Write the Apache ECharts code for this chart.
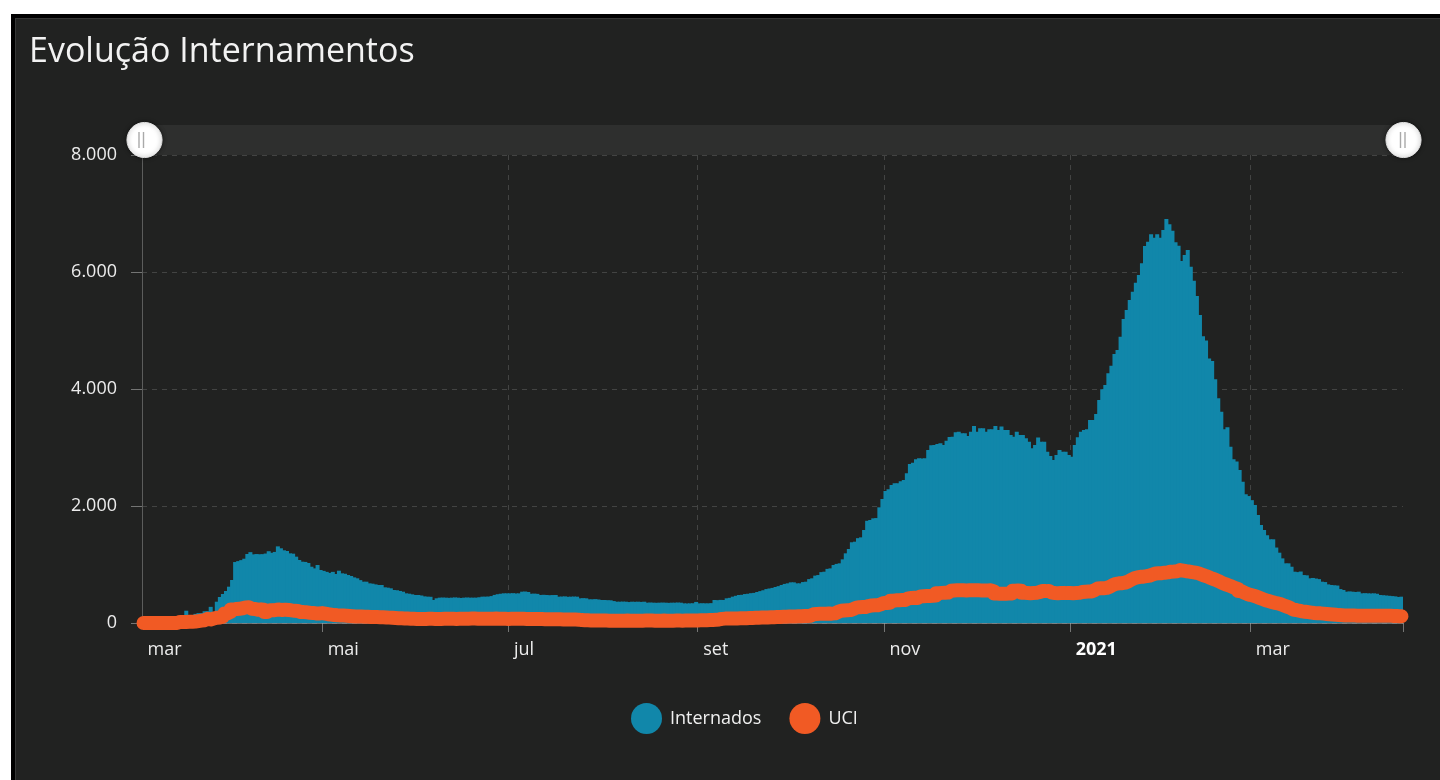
<!DOCTYPE html>
<html>
<head>
<meta charset="utf-8">
<script src="https://cdn.jsdelivr.net/npm/echarts@6/dist/echarts.min.js"></script>
<style>
  html, body { margin: 0; padding: 0; background: #ffffff; width: 1440px; height: 780px; overflow: hidden; }
  #frame { position: absolute; left: 11px; top: 14px; right: 0; bottom: 0; background: #000; }
  #panel { position: absolute; left: 15px; top: 18px; right: 0; bottom: 0; background: #212221;
           border-left: 1px solid #353635; border-top: 1px solid #353635; }
  #chart { position: absolute; left: 0; top: 0; width: 1440px; height: 780px; }
</style>
</head>
<body>
<div id="frame"></div>
<div id="panel"></div>
<div id="chart"></div>
<script>
// ---- Data: daily values from 2020-03-03 to 2021-04-19 ----
const startDate = '2020-03-03';
const monthNames = ['jan','fev','mar','abr','mai','jun','jul','ago','set','out','nov','dez'];
const yTicks = [0, 2000, 4000, 6000, 8000];

const hospMar20 = [0,0,0,0,0,0,0,0,0,0,0,0,0,0,210,89,126,156,169,169,201,203,276,191,364,444,496,547,621];
const hospApr20 = [735,1042,1058,1075,1099,1180,1211,1173,1179,1175,1177,1187,1227,1200,1215,1310,1277,1243,1231,1191,1185,1134,1077,1048,1044,1026,962,934,991,906];
const hospMay20 = [891,874,856,874,838,894,849,842,820,803,780,764,733,706,706,678,672,660,650,650,610,604,593,564,560,548,535,507,501,490,479];
const hospJun20 = [479,470,455,450,448,393,422,433,435,433,430,433,437,433,428,433,436,433,433,433,440,450,450,452,460,480,492,500,507,507];
const hospJul20 = [507,510,505,507,535,538,530,500,502,498,479,482,479,475,478,479,450,452,455,448,450,452,450,422,425,422,405,405,408,402,393];
const hospAug20 = [393,390,388,375,364,364,366,364,358,364,362,364,360,364,347,350,347,345,347,349,347,344,347,347,350,347,336,334,336,338,360];
const hospSep20 = [336,338,336,336,340,393,390,395,393,422,430,450,465,479,482,495,500,510,515,530,545,560,580,590,600,615,630,650,668,678];
const hospOct20 = [695,695,678,678,700,706,750,764,810,820,870,877,925,934,991,1010,1020,1088,1191,1265,1380,1390,1450,1464,1590,1747,1761,1789,1794,1977,2120];
const hospNov20 = [2255,2285,2359,2388,2388,2425,2444,2559,2720,2740,2800,2815,2810,2815,2957,3040,3043,3060,3072,3043,3117,3180,3185,3260,3271,3243,3243,3197,3271,3368];
const hospDec20 = [3271,3328,3328,3271,3311,3311,3368,3300,3357,3300,3300,3214,3185,3271,3214,3214,3157,3100,2986,3043,3170,3100,3100,2929,2855,2786,2872,2957,2929,2929,2872];
const hospJan21 = [2843,3043,3174,3271,3299,3311,3470,3470,3573,3812,3995,4068,4268,4399,4598,4667,4894,5197,5350,5521,5664,5817,5949,6148,6444,6518,6644,6587,6644,6587,6718];
const hospFeb21 = [6906,6815,6706,6507,6450,6188,6291,6376,6091,5852,5590,5265,4900,4830,4520,4480,4165,3840,3612,3311,3345,3014,2800,2760,2615,2416,2200,2170];
const hospMar21 = [2100,2017,1846,1675,1590,1500,1431,1431,1290,1202,1105,1020,1020,962,877,870,880,820,815,764,770,760,750,706,700,660,650,645,640,580,564];
const hospApr21 = [535,540,535,530,535,507,510,507,505,507,500,479,475,470,465,460,455,445,450];

const uciMar20 = [0,0,0,0,0,0,0,0,0,0,0,0,18,18,18,20,22,26,33,41,47,71,61,76,89,95,108,164,188];
const uciApr20 = [230,240,245,251,267,271,245,241,226,233,228,188,218,217,226,229,222,228,224,215,208,204,188,186,182,176,172,164,163,169];
const uciMay20 = [160,150,142,135,131,130,128,125,120,116,113,111,110,108,106,104,104,102,100,98,96,92,88,85,82,80,78,76,74,72,70];
const uciJun20 = [70,68,70,72,71,70,68,70,72,74,73,71,70,72,72,73,74,76,75,73,72,71,72,73,74,75,73,72,71,70];
const uciJul20 = [72,73,74,72,71,70,70,69,68,67,68,66,65,64,64,63,62,61,60,60,59,58,57,50,47,45,44,43,42,42,41];
const uciAug20 = [41,40,40,39,39,38,40,41,40,39,38,39,40,41,42,41,40,39,40,41,40,39,40,42,41,40,41,42,43,42,44];
const uciSep20 = [45,46,48,50,52,54,60,70,75,77,78,78,79,80,80,82,84,86,88,90,92,94,96,98,100,102,104,106,108,110];
const uciOct20 = [110,112,114,116,118,120,125,150,155,157,159,160,162,160,165,190,210,215,217,220,240,262,270,273,275,290,300,302,305,320,342];
const uciNov20 = [342,345,380,388,390,392,395,420,427,430,428,455,458,461,462,465,468,510,515,518,520,550,555,558,560,558,556,558,560,558];
const uciDec20 = [558,557,556,555,558,540,505,501,500,502,503,505,550,555,553,515,513,510,512,515,530,547,545,548,520,513,510,512,515,511,513];
const uciJan21 = [510,512,515,530,535,537,540,560,590,593,595,600,620,650,670,678,680,690,710,740,765,780,790,792,800,810,830,845,849,852,860];
const uciFeb21 = [865,877,880,885,904,895,885,880,870,862,850,830,810,792,770,750,730,706,680,660,640,621,600,580,545,520,495,479];
const uciMar21 = [469,450,430,410,390,375,360,345,336,320,300,280,260,230,222,210,200,192,185,178,172,168,165,160,155,150,145,140,135,132,130];
const uciApr21 = [130,128,127,125,126,125,124,125,126,125,123,124,125,124,122,120,118,117,115];

const internados = [].concat(hospMar20, hospApr20, hospMay20, hospJun20, hospJul20, hospAug20, hospSep20,
  hospOct20, hospNov20, hospDec20, hospJan21, hospFeb21, hospMar21, hospApr21);
const uci = [].concat(uciMar20, uciApr20, uciMay20, uciJun20, uciJul20, uciAug20, uciSep20,
  uciOct20, uciNov20, uciDec20, uciJan21, uciFeb21, uciMar21, uciApr21);

// category dates
const days = [];
(function () {
  const d0 = new Date(startDate + 'T00:00:00Z');
  for (let i = 0; i < internados.length; i++) {
    const d = new Date(d0.getTime() + i * 86400000);
    days.push(d.toISOString().slice(0, 10));
  }
})();

function parts(v) { const p = v.split('-'); return { y: +p[0], m: +p[1], d: +p[2] }; }
function isMajor(v) { const p = parts(v); return p.d === 1 && (p.m % 2 === 1); }

const TEAL = '#1187aa';
const ORANGE = '#f15a24';
const FONT = '"Open Sans", Lato, sans-serif';

const chart = echarts.init(document.getElementById('chart'), null, { renderer: 'canvas' });
chart.setOption({
  backgroundColor: 'transparent',
  animation: false,
  title: {
    text: 'Evolução Internamentos',
    left: 24, top: 30,
    textStyle: { color: '#f2f2f2', fontSize: 34, fontWeight: 'normal', fontFamily: FONT }
  },
  legend: {
    data: ['Internados', 'UCI'],
    icon: 'circle',
    itemWidth: 31, itemHeight: 31,
    itemGap: 28, padding: 0,
    left: 631, top: 703,
    textStyle: { color: '#f0f0f0', fontSize: 18, fontFamily: FONT, padding: [0, 0, 0, 3] }
  },
  grid: { left: 142, right: 37, top: 155, bottom: 157, containLabel: false },
  dataZoom: [{
    type: 'slider', xAxisIndex: 0, start: 0, end: 100,
    top: 125, height: 30, left: 142, right: 37,
    backgroundColor: '#2e2f2e', borderColor: 'transparent', borderRadius: 0,
    fillerColor: 'rgba(0,0,0,0)',
    showDetail: false, showDataShadow: false, brushSelect: false,
    moveHandleSize: 0,
    moveHandleStyle: { opacity: 0 },
    handleIcon: 'circle', handleSize: '117%',
    handleStyle: { color: '#ffffff', borderColor: '#e0e0e0', borderWidth: 1, shadowBlur: 4, shadowColor: 'rgba(0,0,0,0.5)' },
    emphasis: { handleStyle: { color: '#ffffff', borderColor: '#e0e0e0' }, moveHandleStyle: { opacity: 0 } },
    dataBackground: { lineStyle: { opacity: 0 }, areaStyle: { opacity: 0 } },
    selectedDataBackground: { lineStyle: { opacity: 0 }, areaStyle: { opacity: 0 } }
  }],
  xAxis: [{
    type: 'category', data: days, boundaryGap: true,
    axisLine: { show: false },
    axisTick: {
      show: true, length: 9,
      interval: function (i, v) { return i !== 0 && isMajor(v); },
      lineStyle: { color: '#747574' }
    },
    axisLabel: {
      show: true,
      interval: function (i, v) { return i === 0 || isMajor(v); },
      formatter: function (v, i) {
        const p = parts(v);
        if (i === 0) return monthNames[p.m - 1];
        if (p.d !== 1) return '';
        if (p.m === 1) return '{b|' + p.y + '}';
        return monthNames[p.m - 1];
      },
      align: 'left', padding: [0, 0, 0, 4], margin: 18,
      color: '#ececec', fontSize: 18, fontFamily: FONT,
      rich: { b: { fontWeight: 'bold', fontSize: 18, color: '#ffffff', fontFamily: FONT } }
    },
    splitLine: {
      show: true, showMinLine: false, showMaxLine: false,
      interval: function (i, v) { return i !== 0 && isMajor(v); },
      lineStyle: { color: '#434443', type: [5, 5], width: 1 }
    }
  }, {
    type: 'category', data: days, boundaryGap: true, position: 'bottom', z: 3,
    axisLine: { show: true, lineStyle: { color: 'rgba(170,180,185,0.55)', width: 1 } },
    axisTick: { show: false }, axisLabel: { show: false }, splitLine: { show: false }
  }],
  yAxis: {
    type: 'value', min: yTicks[0], max: yTicks[yTicks.length - 1], interval: 2000,
    axisLine: { show: true, lineStyle: { color: '#5c5d5c' } },
    axisTick: { show: true, length: 11, lineStyle: { color: '#747574' } },
    axisLabel: {
      color: '#ececec', fontSize: 18, fontFamily: FONT, margin: 25,
      formatter: function (v) { return v === 0 ? '0' : (v / 1000).toFixed(3); }
    },
    splitLine: { show: true, lineStyle: { color: '#434443', type: [5, 5], width: 1 } }
  },
  series: [{
    name: 'Internados', type: 'bar', xAxisIndex: 0, data: internados,
    barWidth: 4, barGap: '-100%', z: 2,
    itemStyle: { color: TEAL },
    emphasis: { disabled: true }
  }, {
    name: 'UCI', type: 'line', xAxisIndex: 0, data: uci, z: 5,
    step: 'middle', symbol: 'none', showSymbol: false,
    itemStyle: { color: ORANGE },
    lineStyle: { color: ORANGE, width: 14, cap: 'round', join: 'round' },
    emphasis: { disabled: true }
  }],
  graphic: [
    { type: 'line', z: 100, shape: { x1: 139, y1: 132, x2: 139, y2: 148 }, style: { stroke: '#a9a9a9', lineWidth: 1.4 } },
    { type: 'line', z: 100, shape: { x1: 143.5, y1: 132, x2: 143.5, y2: 148 }, style: { stroke: '#a9a9a9', lineWidth: 1.4 } },
    { type: 'line', z: 100, shape: { x1: 1400.5, y1: 132, x2: 1400.5, y2: 148 }, style: { stroke: '#a9a9a9', lineWidth: 1.4 } },
    { type: 'line', z: 100, shape: { x1: 1405, y1: 132, x2: 1405, y2: 148 }, style: { stroke: '#a9a9a9', lineWidth: 1.4 } }
  ]
});
</script>
</body>
</html>
